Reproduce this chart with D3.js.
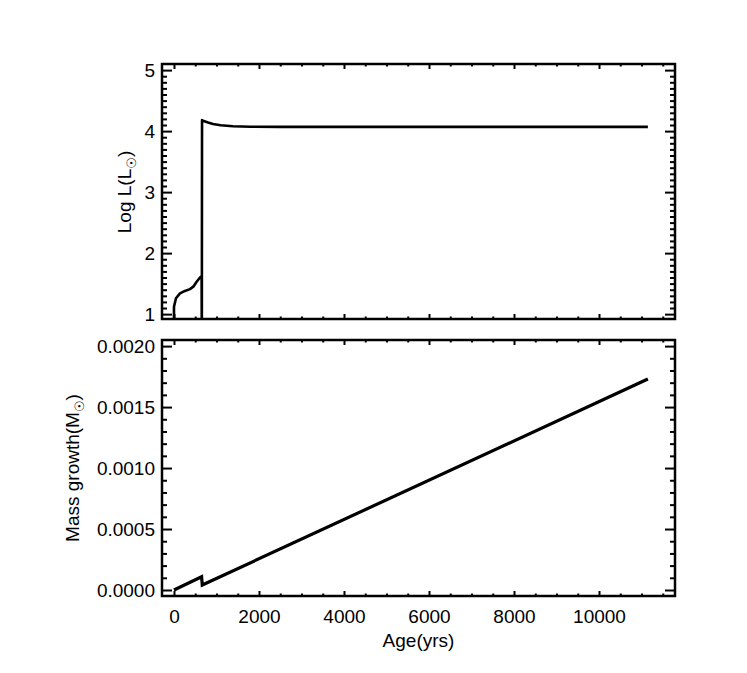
<!DOCTYPE html>
<html><head><meta charset="utf-8">
<script src="https://cdn.jsdelivr.net/npm/d3@7"></script>
<style>
body{margin:0;background:#fff;}
text{font-family:"Liberation Sans",Arial,Helvetica,sans-serif;fill:#000;}
</style></head>
<body>
<svg id="c" width="747" height="673"></svg>
<script>
// ---- data ----
const lumAge  = [0, 0, 47, 141, 259, 376, 455, 533, 612, 650, 655, 660, 700, 800, 918, 1100, 1388, 1800, 2500, 5000, 8000, 11150];
const lumLogL = [0.5, 1.12, 1.26, 1.34, 1.38, 1.41, 1.45, 1.53, 1.60, 1.62, 0.5, 4.18, 4.165, 4.14, 4.115, 4.095, 4.08, 4.072, 4.07, 4.07, 4.07, 4.07];
const massAge  = [0, 650, 665, 11150];
const massGrow = [0, 0.000109, 0.000041, 0.00173];
const xTicks = [0, 2000, 4000, 6000, 8000, 10000];
const yTopTicks = [1, 2, 3, 4, 5];
const yBotTicks = [0, 0.0005, 0.0010, 0.0015, 0.0020];

const svg = d3.select("#c");
const L = 162, R = 675;
const panels = [
  {top: 64, bot: 319},
  {top: 340, bot: 596}
];
const x = d3.scaleLinear().domain([-282, 11788]).range([L, R]);
const yT = d3.scaleLinear().domain([0.92, 5.1]).range([panels[0].bot, panels[0].top]);
const yB = d3.scaleLinear().domain([-0.0000492, 0.00205]).range([panels[1].bot, panels[1].top]);

const fs = 19;
function styleAxis(g){
  g.select(".domain").remove();
  g.selectAll("line").attr("stroke","#000").attr("stroke-width",2);
  g.selectAll("text").attr("font-size",fs).attr("font-family","Liberation Sans, Arial, sans-serif").attr("fill","#000");
}
const xMinor = d3.range(0, 11501, 500).filter(v => !xTicks.includes(v));

function drawPanel(p, y, majors, minors, fmt, showX, id){
  // y axes
  svg.append("g").attr("transform",`translate(${L},0)`)
    .call(d3.axisLeft(y).tickValues(majors).tickSize(-10).tickPadding(7).tickFormat(fmt)).call(styleAxis);
  svg.append("g").attr("transform",`translate(${L},0)`)
    .call(d3.axisLeft(y).tickValues(minors).tickSize(-5).tickFormat("")).call(styleAxis);
  svg.append("g").attr("transform",`translate(${R},0)`)
    .call(d3.axisRight(y).tickValues(majors).tickSize(-10).tickFormat("")).call(styleAxis);
  svg.append("g").attr("transform",`translate(${R},0)`)
    .call(d3.axisRight(y).tickValues(minors).tickSize(-5).tickFormat("")).call(styleAxis);
  // x axes
  svg.append("g").attr("transform",`translate(0,${p.bot})`)
    .call(d3.axisBottom(x).tickValues(xTicks).tickSize(-5).tickPadding(13.5).tickFormat(showX ? d3.format("d") : "")).call(styleAxis);
  svg.append("g").attr("transform",`translate(0,${p.bot})`)
    .call(d3.axisBottom(x).tickValues(xMinor).tickSize(-2.5).tickFormat("")).call(styleAxis);
  svg.append("g").attr("transform",`translate(0,${p.top})`)
    .call(d3.axisTop(x).tickValues(xTicks).tickSize(-5).tickFormat("")).call(styleAxis);
  svg.append("g").attr("transform",`translate(0,${p.top})`)
    .call(d3.axisTop(x).tickValues(xMinor).tickSize(-2.5).tickFormat("")).call(styleAxis);
  // frame
  svg.append("rect").attr("x",L).attr("y",p.top).attr("width",R-L).attr("height",p.bot-p.top)
    .attr("fill","none").attr("stroke","#000").attr("stroke-width",2.5);
  svg.append("clipPath").attr("id",id).append("rect")
    .attr("x",L).attr("y",p.top).attr("width",R-L).attr("height",p.bot-p.top);
}

const yTopMinor = d3.range(10, 51).map(v=>v/10).filter(v => !yTopTicks.includes(v));
const yBotMinor = d3.range(0, 21).map(v=>v/10000).filter((v,i) => i%5 !== 0);

drawPanel(panels[0], yT, yTopTicks, yTopMinor, d3.format("d"), false, "clipT");
drawPanel(panels[1], yB, yBotTicks, yBotMinor, d3.format(".4f"), true, "clipB");

// lines
const lumData = lumAge.map((a,i)=>[a, lumLogL[i]]);
svg.append("path").attr("clip-path","url(#clipT)")
  .attr("d", d3.line().x(d=>x(d[0])).y(d=>yT(d[1]))(lumData))
  .attr("fill","none").attr("stroke","#000").attr("stroke-width",2.6).attr("stroke-linejoin","round");
const massData = massAge.map((a,i)=>[a, massGrow[i]]);
svg.append("path").attr("clip-path","url(#clipB)")
  .attr("d", d3.line().x(d=>x(d[0])).y(d=>yB(d[1]))(massData))
  .attr("fill","none").attr("stroke","#000").attr("stroke-width",3.2).attr("stroke-linejoin","miter");

// titles
function yTitle(cx, cy, main, sub){
  const t = svg.append("text").attr("transform",`translate(${cx},${cy}) rotate(-90)`)
    .attr("text-anchor","middle").attr("font-size",fs);
  t.append("tspan").text(main + "(" + sub.letter);
  t.append("tspan").attr("font-size",13).attr("dy",5).attr("font-family","DejaVu Sans").text("☉");
  t.append("tspan").attr("dy",-5).text(")");
}
yTitle(131, 192, "Log L", {letter:"L"});
yTitle(79, 468, "Mass growth", {letter:"M"});
svg.append("text").attr("x",(L+R)/2).attr("y",647).attr("text-anchor","middle").attr("font-size",fs).text("Age(yrs)");
</script>
</body></html>
